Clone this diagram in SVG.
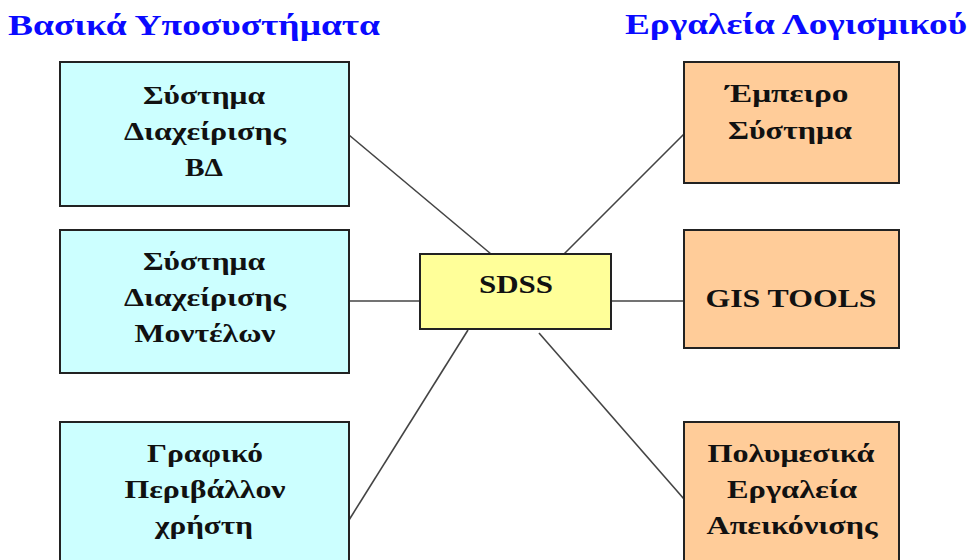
<svg xmlns="http://www.w3.org/2000/svg" width="971" height="560" viewBox="0 0 971 560">
  <style>
    .title { font-family: "Liberation Serif", "Times New Roman", serif; font-weight: bold; font-size: 30px; fill: #0a0aff; }
    .label { font-family: "Liberation Serif", "Times New Roman", serif; font-weight: bold; font-size: 26px; fill: #111; text-anchor: middle; }
    .box { stroke: #222; stroke-width: 2; }
    .sub { fill: #ccffff; }
    .tool { fill: #ffcc99; }
    .core { fill: #ffff99; }
    .link { stroke: #444; stroke-width: 1.6; fill: none; }
  </style>
  <rect width="971" height="560" fill="#ffffff"/>

  <!-- Column headings -->
  <text class="title" x="8" y="35" textLength="372" lengthAdjust="spacingAndGlyphs">Βασικά Υποσυστήματα</text>
  <text class="title" x="625" y="34" textLength="342" lengthAdjust="spacingAndGlyphs">Εργαλεία Λογισμικού</text>

  <!-- Connectors -->
  <g id="connectors">
    <line class="link" x1="349" y1="135" x2="491" y2="254"/>
    <line class="link" x1="349" y1="301" x2="420" y2="301"/>
    <line class="link" x1="349" y1="520" x2="468" y2="330"/>
    <line class="link" x1="684" y1="134" x2="564" y2="254"/>
    <line class="link" x1="611" y1="301" x2="684" y2="301"/>
    <line class="link" x1="684" y1="499" x2="539" y2="333"/>
  </g>

  <!-- Subsystems (left) -->
  <g id="dbms">
    <rect class="box sub" x="60" y="62" width="289" height="144"/>
    <text class="label" x="204" y="104" textLength="122" lengthAdjust="spacingAndGlyphs">Σύστημα</text>
    <text class="label" x="205" y="140" textLength="162" lengthAdjust="spacingAndGlyphs">Διαχείρισης</text>
    <text class="label" x="204" y="176" textLength="38" lengthAdjust="spacingAndGlyphs">ΒΔ</text>
  </g>
  <g id="model-management">
    <rect class="box sub" x="60" y="230" width="289" height="143"/>
    <text class="label" x="204" y="270" textLength="122" lengthAdjust="spacingAndGlyphs">Σύστημα</text>
    <text class="label" x="205" y="306" textLength="162" lengthAdjust="spacingAndGlyphs">Διαχείρισης</text>
    <text class="label" x="205" y="342" textLength="141" lengthAdjust="spacingAndGlyphs">Μοντέλων</text>
  </g>
  <g id="user-interface">
    <rect class="box sub" x="60" y="422" width="289" height="150"/>
    <text class="label" x="205" y="462" textLength="116" lengthAdjust="spacingAndGlyphs">Γραφικό</text>
    <text class="label" x="205" y="498" textLength="161" lengthAdjust="spacingAndGlyphs">Περιβάλλον</text>
    <text class="label" x="204" y="534" textLength="98" lengthAdjust="spacingAndGlyphs">χρήστη</text>
  </g>

  <!-- Core -->
  <g id="sdss">
    <rect class="box core" x="420" y="254" width="191" height="75"/>
    <text class="label" x="516" y="293" textLength="74" lengthAdjust="spacingAndGlyphs">SDSS</text>
  </g>

  <!-- Software tools (right) -->
  <g id="expert-system">
    <rect class="box tool" x="684" y="62" width="215" height="121"/>
    <text class="label" x="787" y="102" textLength="123" lengthAdjust="spacingAndGlyphs">Έμπειρο</text>
    <text class="label" x="790" y="139" textLength="124" lengthAdjust="spacingAndGlyphs">Σύστημα</text>
  </g>
  <g id="gis-tools">
    <rect class="box tool" x="684" y="230" width="215" height="118"/>
    <text class="label" x="791" y="307" textLength="171" lengthAdjust="spacingAndGlyphs">GIS TOOLS</text>
  </g>
  <g id="multimedia">
    <rect class="box tool" x="684" y="422" width="215" height="150"/>
    <text class="label" x="791" y="462" textLength="167" lengthAdjust="spacingAndGlyphs">Πολυμεσικά</text>
    <text class="label" x="792" y="498" textLength="130" lengthAdjust="spacingAndGlyphs">Εργαλεία</text>
    <text class="label" x="792" y="534" textLength="171" lengthAdjust="spacingAndGlyphs">Απεικόνισης</text>
  </g>
</svg>
